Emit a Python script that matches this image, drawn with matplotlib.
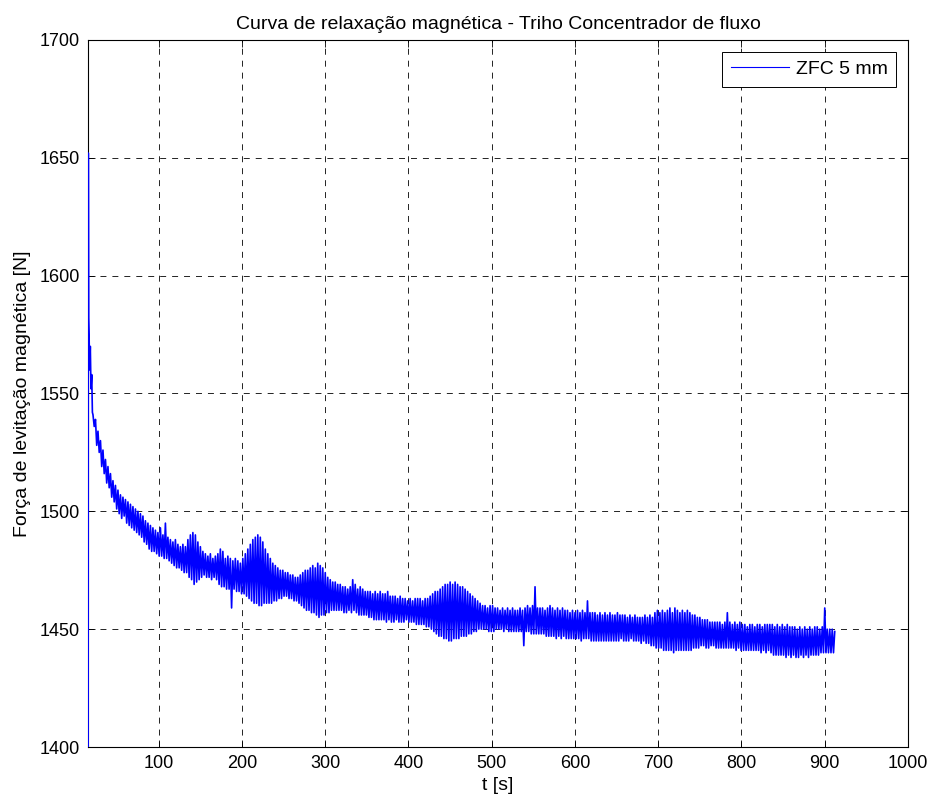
import numpy as np
import matplotlib
matplotlib.use('Agg')
import matplotlib.pyplot as plt

plt.rcParams['font.family'] = ['Liberation Sans', 'DejaVu Sans']
plt.rcParams['lines.scale_dashes'] = False

# Texts
title = 'Curva de relaxação magnética - Triho Concentrador de fluxo'
xlabel = 't [s]'
ylabel = 'Força de levitação magnética [N]'
legend_label = 'ZFC 5 mm'

# First seconds of the test (fast drop after the load)
t_start = [15.2, 15.4, 15.8, 16.3, 17.0, 17.8, 18.6, 19.5, 20.3]
f_start = [1400, 1652, 1582, 1575, 1560, 1570, 1552, 1558, 1542]

# Rest of the record, one reading every 1.5 s from t = 21 s
t_step = 1.5
t_first = 21
f_main = [
    # 21 - 49.5 s
    1541, 1536, 1539, 1528, 1534, 1525, 1530, 1519, 1526, 1516, 1522, 1512, 1519, 1510, 1516, 1506, 1513, 1504, 1511, 1501,
    # 51 - 79.5 s
    1509, 1499, 1507, 1497, 1506, 1498, 1505, 1495, 1504, 1494, 1503, 1493, 1502, 1492, 1501, 1491, 1500, 1490, 1499, 1489,
    # 81 - 109.5 s
    1498, 1487, 1496, 1486, 1495, 1484, 1494, 1483, 1493, 1483, 1492, 1482, 1491, 1481, 1493, 1481, 1490, 1480, 1495, 1480,
    # 111 - 139.5 s
    1489, 1479, 1488, 1478, 1487, 1477, 1488, 1476, 1486, 1476, 1485, 1475, 1486, 1474, 1485, 1474, 1488, 1472, 1490, 1471,
    # 141 - 169.5 s
    1491, 1469, 1490, 1470, 1487, 1471, 1485, 1472, 1483, 1473, 1482, 1472, 1481, 1472, 1482, 1471, 1480, 1472, 1481, 1471,
    # 171 - 199.5 s
    1482, 1469, 1484, 1468, 1483, 1468, 1480, 1467, 1481, 1467, 1480, 1459, 1479, 1467, 1480, 1466, 1479, 1466, 1478, 1465,
    # 201 - 229.5 s
    1480, 1465, 1482, 1464, 1484, 1463, 1486, 1462, 1488, 1461, 1489, 1461, 1490, 1460, 1489, 1460, 1487, 1461, 1484, 1461,
    # 231 - 259.5 s
    1482, 1461, 1480, 1461, 1478, 1462, 1477, 1462, 1476, 1463, 1475, 1463, 1475, 1464, 1474, 1464, 1474, 1463, 1473, 1463,
    # 261 - 289.5 s
    1473, 1462, 1472, 1462, 1472, 1461, 1473, 1460, 1474, 1459, 1475, 1458, 1475, 1458, 1476, 1457, 1477, 1457, 1476, 1456,
    # 291 - 319.5 s
    1478, 1455, 1477, 1456, 1476, 1456, 1474, 1457, 1472, 1457, 1471, 1458, 1470, 1458, 1470, 1458, 1469, 1458, 1469, 1458,
    # 321 - 349.5 s
    1468, 1457, 1468, 1457, 1467, 1458, 1468, 1457, 1471, 1458, 1469, 1457, 1467, 1456, 1468, 1456, 1467, 1456, 1466, 1456,
    # 351 - 379.5 s
    1466, 1455, 1466, 1455, 1465, 1454, 1466, 1454, 1465, 1454, 1466, 1454, 1465, 1454, 1465, 1453, 1466, 1454, 1464, 1453,
    # 381 - 409.5 s
    1464, 1453, 1464, 1454, 1463, 1453, 1464, 1453, 1463, 1453, 1463, 1454, 1462, 1453, 1463, 1453, 1462, 1453, 1463, 1452,
    # 411 - 439.5 s
    1463, 1452, 1463, 1452, 1462, 1452, 1463, 1451, 1463, 1451, 1464, 1450, 1465, 1449, 1466, 1448, 1466, 1447, 1467, 1447,
    # 441 - 469.5 s
    1468, 1446, 1469, 1446, 1469, 1445, 1470, 1445, 1469, 1446, 1470, 1446, 1469, 1446, 1468, 1447, 1468, 1447, 1467, 1447,
    # 471 - 499.5 s
    1466, 1448, 1465, 1448, 1464, 1449, 1463, 1449, 1462, 1450, 1461, 1450, 1460, 1450, 1460, 1450, 1459, 1449, 1460, 1449,
    # 501 - 529.5 s
    1460, 1449, 1459, 1450, 1459, 1450, 1458, 1450, 1459, 1449, 1458, 1450, 1459, 1449, 1458, 1449, 1459, 1449, 1458, 1449,
    # 531 - 559.5 s
    1458, 1449, 1459, 1449, 1458, 1443, 1459, 1449, 1460, 1449, 1459, 1448, 1460, 1448, 1468, 1448, 1459, 1448, 1459, 1448,
    # 561 - 589.5 s
    1459, 1448, 1458, 1447, 1459, 1447, 1460, 1447, 1459, 1447, 1458, 1446, 1459, 1447, 1458, 1446, 1459, 1447, 1458, 1446,
    # 591 - 619.5 s
    1458, 1446, 1457, 1446, 1458, 1446, 1457, 1446, 1458, 1446, 1457, 1445, 1458, 1446, 1457, 1446, 1462, 1446, 1457, 1445,
    # 621 - 649.5 s
    1457, 1445, 1457, 1445, 1456, 1445, 1457, 1445, 1456, 1445, 1457, 1445, 1456, 1445, 1457, 1445, 1456, 1445, 1456, 1445,
    # 651 - 679.5 s
    1457, 1445, 1456, 1446, 1456, 1445, 1456, 1445, 1455, 1445, 1456, 1446, 1455, 1445, 1456, 1445, 1455, 1445, 1455, 1444,
    # 681 - 709.5 s
    1455, 1445, 1456, 1444, 1455, 1444, 1456, 1443, 1455, 1443, 1457, 1442, 1458, 1442, 1457, 1442, 1458, 1441, 1457, 1441,
    # 711 - 739.5 s
    1458, 1441, 1459, 1441, 1457, 1440, 1459, 1441, 1458, 1441, 1457, 1441, 1458, 1441, 1457, 1441, 1458, 1441, 1457, 1441,
    # 741 - 769.5 s
    1456, 1442, 1456, 1442, 1455, 1442, 1455, 1443, 1454, 1443, 1454, 1442, 1454, 1442, 1453, 1443, 1453, 1443, 1453, 1442,
    # 771 - 799.5 s
    1453, 1442, 1453, 1442, 1452, 1442, 1453, 1442, 1457, 1442, 1453, 1442, 1452, 1442, 1453, 1441, 1452, 1442, 1453, 1441,
    # 801 - 829.5 s
    1452, 1441, 1452, 1441, 1451, 1441, 1452, 1441, 1452, 1441, 1451, 1441, 1452, 1441, 1452, 1440, 1451, 1441, 1452, 1440,
    # 831 - 859.5 s
    1452, 1441, 1452, 1440, 1452, 1439, 1451, 1439, 1452, 1439, 1451, 1439, 1452, 1439, 1451, 1438, 1452, 1439, 1451, 1438,
    # 861 - 889.5 s
    1451, 1439, 1451, 1438, 1450, 1438, 1451, 1439, 1450, 1438, 1451, 1439, 1450, 1438, 1451, 1439, 1450, 1439, 1451, 1439,
    # 891 - 912 s
    1451, 1439, 1450, 1440, 1451, 1440, 1459, 1440, 1450, 1440, 1450, 1440, 1450, 1440, 1449,
]

t_main = t_first + t_step * np.arange(len(f_main))
t = np.concatenate([t_start, t_main])
f = np.concatenate([f_start, f_main])

xticks = [100, 200, 300, 400, 500, 600, 700, 800, 900, 1000]
yticks = [1400, 1450, 1500, 1550, 1600, 1650, 1700]

fig = plt.figure(figsize=(9.33, 8.01), dpi=100)
ax = fig.add_axes([0.0943, 0.0674, 0.8789, 0.8827])

ax.plot(t, f, color='#0000ff', linewidth=1.2, label=legend_label, zorder=3)

ax.set_xlim(15, 1000)
ax.set_ylim(1400, 1700)
ax.set_xticks(xticks)
ax.set_yticks(yticks)
ax.tick_params(direction='in', length=5, width=0.6, labelsize=13,
               top=True, right=True, pad=6)
ax.grid(True, color='black', linestyle=(0, (4.3, 4.3)), linewidth=0.6)
for s in ax.spines.values():
    s.set_linewidth(0.8)

ax.set_title(title, fontsize=14, pad=8)
ax.set_xlabel(xlabel, fontsize=14, labelpad=3)
ax.set_ylabel(ylabel, fontsize=14, labelpad=6)

leg = ax.legend(loc='upper right', fontsize=14, fancybox=False,
                edgecolor='black', framealpha=1, borderaxespad=0.6,
                handlelength=3.0, handletextpad=0.35, borderpad=0.45)
leg.get_lines()[0].set_linewidth(0.8)
leg.get_frame().set_linewidth(0.7)

fig.savefig('out.png', dpi=100)
